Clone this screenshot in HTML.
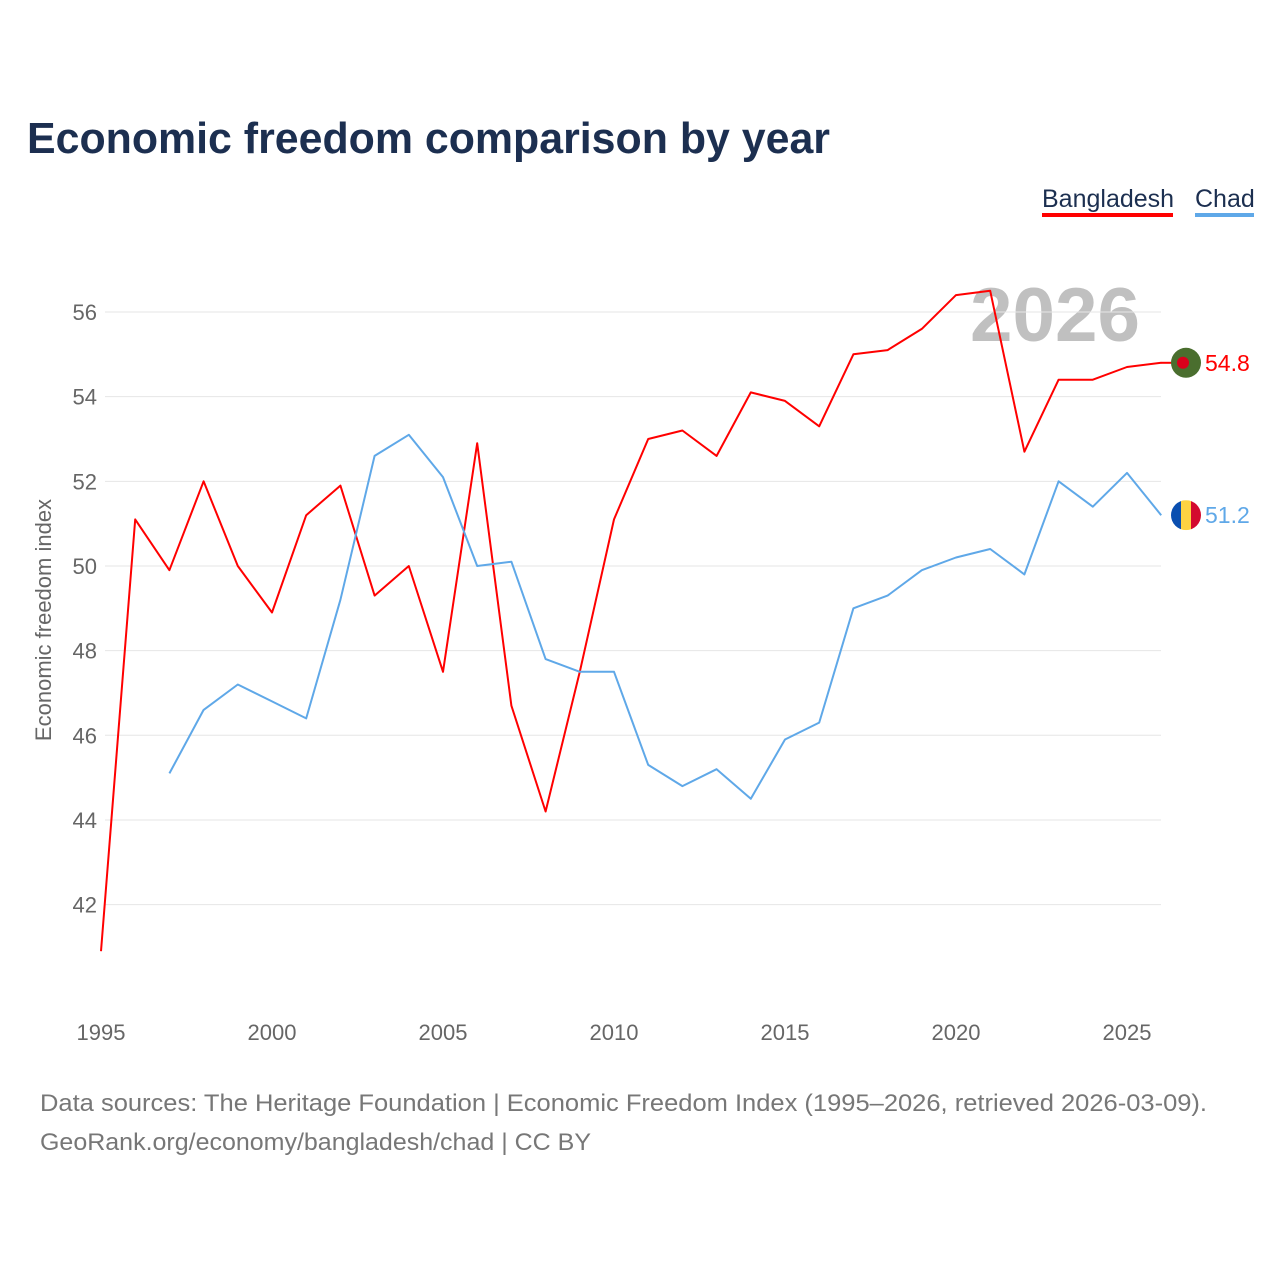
<!DOCTYPE html>
<html><head><meta charset="utf-8"><style>
body{margin:0;background:#fff;}
svg{display:block;font-family:"Liberation Sans",sans-serif;}
</style></head><body>
<svg id="chart" width="1280" height="1280">
<rect width="1280" height="1280" fill="#fff"/>
<text x="27" y="153" font-size="44" font-weight="bold" fill="#1c2f50" textLength="803" lengthAdjust="spacingAndGlyphs">Economic freedom comparison by year</text>
<g>
<text x="1042" y="207" font-size="25" fill="#1c2f50">Bangladesh</text>
<rect x="1042" y="213" width="131" height="4" fill="#ff0000"/>
<text x="1195" y="207" font-size="25" fill="#1c2f50">Chad</text>
<rect x="1195" y="213" width="59" height="4" fill="#5fa8e8"/>
</g>
<text x="970" y="341" font-size="76" font-weight="bold" fill="#c0c0c0" textLength="170" lengthAdjust="spacingAndGlyphs">2026</text>
<g id="grid"></g><g id="xt"></g><g id="lines"></g>
<text transform="translate(51,620) rotate(-90)" font-size="22" fill="#666" text-anchor="middle">Economic freedom index</text>
<text x="40" y="1111" font-size="24" fill="#777" textLength="1167" lengthAdjust="spacingAndGlyphs">Data sources: The Heritage Foundation | Economic Freedom Index (1995–2026, retrieved 2026-03-09).</text>
<text x="40" y="1150" font-size="24" fill="#777" textLength="551" lengthAdjust="spacingAndGlyphs">GeoRank.org/economy/bangladesh/chad | CC BY</text>
</svg>
<script>
const years=[1995,1996,1997,1998,1999,2000,2001,2002,2003,2004,2005,2006,2007,2008,2009,2010,2011,2012,2013,2014,2015,2016,2017,2018,2019,2020,2021,2022,2023,2024,2025,2026];
const bangladesh=[40.9,51.1,49.9,52.0,50.0,48.9,51.2,51.9,49.3,50.0,47.5,52.9,46.7,44.2,47.5,51.1,53.0,53.2,52.6,54.1,53.9,53.3,55.0,55.1,55.6,56.4,56.5,52.7,54.4,54.4,54.7,54.8];
const chad=[null,null,45.1,46.6,47.2,46.8,46.4,49.2,52.6,53.1,52.1,50.0,50.1,47.8,47.5,47.5,45.3,44.8,45.2,44.5,45.9,46.3,49.0,49.3,49.9,50.2,50.4,49.8,52.0,51.4,52.2,51.2];
const yTicks=[42,44,46,48,50,52,54,56];
const xTicks=[1995,2000,2005,2010,2015,2020,2025];
const NS="http://www.w3.org/2000/svg";
const X=y=>101+(y-1995)*34.2;
const Y=v=>312+(56-v)*42.33;
function mk(t,a,p){const e=document.createElementNS(NS,t);for(const k in a)e.setAttribute(k,a[k]);p.appendChild(e);return e;}
const g=document.getElementById('grid');
yTicks.forEach(v=>{
const l=mk('line',{x1:105,x2:1161,y1:Y(v),y2:Y(v),stroke:'#e6e6e6','stroke-width':1},g);


const t=mk('text',{x:97,y:Y(v)+8,'font-size':22,fill:'#666','text-anchor':'end'},g);
t.textContent=v;


});
const xt=document.getElementById('xt');
xTicks.forEach(v=>{
const t=mk('text',{x:X(v),y:1040,'font-size':22,fill:'#666','text-anchor':'middle'},xt);
t.textContent=v;


});
const L=document.getElementById('lines');
function line(vals,color,name){
let d='';vals.forEach((v,i)=>{if(v==null)return;d+=(d?'L':'M')+X(years[i]).toFixed(1)+','+Y(v).toFixed(1);});
const p=mk('path',{d:d,fill:'none',stroke:color,'stroke-width':2,'stroke-linejoin':'round'},L);


const last=vals[vals.length-1];
const t=mk('text',{x:1205,y:Y(last)+8,'font-size':23,fill:color},L);
t.textContent=last.toFixed(1);


return Y(last);
}
const yb=line(bangladesh,'#ff0000','bangladesh');
const yc=line(chad,'#5fa8e8','chad');
const fb=mk('g',{},L);


mk('line',{x1:1161,x2:1175,y1:yb,y2:yb,stroke:'#ff0000','stroke-width':2},fb);
mk('circle',{cx:1186,cy:yb,r:15,fill:'#4a6e2e'},fb);
mk('circle',{cx:1183,cy:yb,r:6,fill:'#d9001b'},fb);
const fc=mk('g',{},L);


mk('clipPath',{id:'cc'},fc);
mk('circle',{cx:1186,cy:yc,r:15},document.getElementById('cc'));
mk('rect',{x:1171,y:yc-15,width:10,height:30,fill:'#0a4fb0','clip-path':'url(#cc)'},fc);
mk('rect',{x:1181,y:yc-15,width:10,height:30,fill:'#fdd342','clip-path':'url(#cc)'},fc);
mk('rect',{x:1191,y:yc-15,width:10,height:30,fill:'#d30a2e','clip-path':'url(#cc)'},fc);
</script>
</body></html>
